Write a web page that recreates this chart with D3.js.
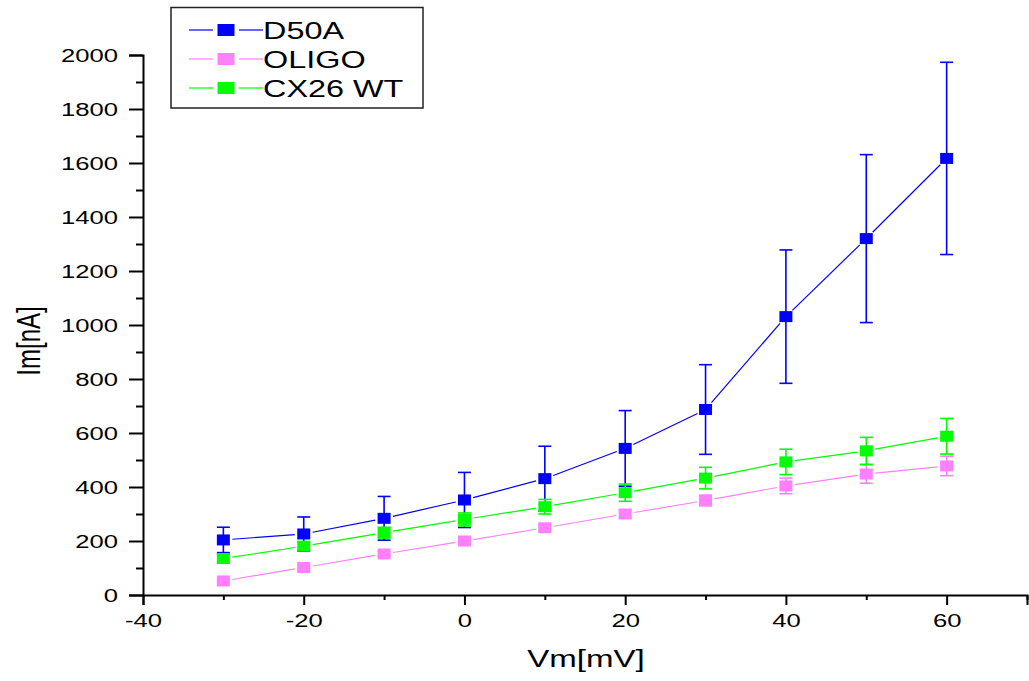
<!DOCTYPE html>
<html>
<head>
<meta charset="utf-8">
<script src="https://cdn.jsdelivr.net/npm/d3@7"></script>
<style>
  body { margin: 0; background: #fff; }
  svg { display: block; font-family: Arial, "Liberation Sans", sans-serif; }
</style>
</head>
<body>
<svg id="chart" width="1029" height="681"></svg>
<script>
// data
const voltages = [-30, -20, -10, 0, 10, 20, 30, 40, 50, 60];
const d50a = [204, 226, 284, 352, 431, 543, 687, 1031, 1320, 1617];
const d50aErr = [47, 63, 81, 102, 120, 140, 166, 247, 311, 356];
const oligo = [52, 102, 152, 200, 249, 300, 350, 404, 448, 478];
const oligoErr = [5, 8, 10, 10, 10, 14, 20, 29, 34, 36];
const cx26 = [135, 181, 231, 280, 327, 379, 433, 493, 534, 588];
const cx26Err = [15, 15, 20, 24, 27, 32, 40, 47, 50, 66];
const seriesNames = ["D50A", "OLIGO", "CX26 WT"];
const xTicks = [-40, -20, 0, 20, 40, 60];
const xMinor = [-30, -10, 10, 30, 50, 70];
const yTicks = [0, 200, 400, 600, 800, 1000, 1200, 1400, 1600, 1800, 2000];
const yMinor = [100, 300, 500, 700, 900, 1100, 1300, 1500, 1700, 1900];

const colors = ["#0000ff", "#ff80ff", "#00ff00"];
const sx = 1.35; // the source image is stretched horizontally

const series = [
  { name: seriesNames[0], vals: d50a, err: d50aErr, color: colors[0] },
  { name: seriesNames[1], vals: oligo, err: oligoErr, color: colors[1] },
  { name: seriesNames[2], vals: cx26, err: cx26Err, color: colors[2] }
];

const svg = d3.select("#chart");

const x = d3.scaleLinear().domain([-40, 70]).range([143, 1027]);
const y = d3.scaleLinear().domain([0, 2000]).range([595, 55]);

// lines with small gaps near the markers
const gap = 9;
series.forEach(s => {
  const pts = voltages.map((v, i) => [x(v), y(s.vals[i])]);
  for (let i = 0; i < pts.length - 1; i++) {
    const [x1, y1] = pts[i], [x2, y2] = pts[i + 1];
    const len = Math.hypot(x2 - x1, y2 - y1);
    const ux = (x2 - x1) / len, uy = (y2 - y1) / len;
    svg.append("line")
      .attr("x1", x1 + ux * gap).attr("y1", y1 + uy * gap)
      .attr("x2", x2 - ux * gap).attr("y2", y2 - uy * gap)
      .attr("stroke", s.color)
      .attr("stroke-width", 1.2);
  }
});

// error bars and markers
series.forEach(s => {
  const g = svg.append("g");
  voltages.forEach((v, i) => {
    const cx = x(v);
    const top = y(s.vals[i] + s.err[i]);
    const bot = y(s.vals[i] - s.err[i]);
    g.append("line").attr("x1", cx).attr("x2", cx).attr("y1", top).attr("y2", bot)
      .attr("stroke", s.color).attr("stroke-width", 1.6);
    [top, bot].forEach(yy => {
      g.append("line").attr("x1", cx - 6.5).attr("x2", cx + 6.5).attr("y1", yy).attr("y2", yy)
        .attr("stroke", s.color).attr("stroke-width", 1.6);
    });
  });
  g.selectAll("rect")
    .data(voltages)
    .join("rect")
    .attr("x", d => x(d) - 6.5)
    .attr("y", (d, i) => y(s.vals[i]) - 5.5)
    .attr("width", 13)
    .attr("height", 11)
    .attr("fill", s.color);
});

// axes
const plain = d => String(d);
const xAxis = svg.append("g").attr("transform", "translate(0,595)")
  .call(d3.axisBottom(x).tickValues(xTicks).tickSize(10).tickPadding(9).tickFormat(plain));
svg.append("g").attr("transform", "translate(0,595)")
  .call(d3.axisBottom(x).tickValues(xMinor).tickSize(5).tickFormat(""))
  .select(".domain").remove();
const yAxis = svg.append("g").attr("transform", "translate(143,0)")
  .call(d3.axisLeft(y).tickValues(yTicks).tickSize(14).tickPadding(11).tickFormat(plain));
svg.append("g").attr("transform", "translate(143,0)")
  .call(d3.axisLeft(y).tickValues(yMinor).tickSize(7).tickFormat(""))
  .select(".domain").remove();

svg.selectAll(".domain").attr("stroke", "#000").attr("stroke-width", 2);
svg.selectAll(".tick line").attr("stroke", "#000").attr("stroke-width", 2);

xAxis.selectAll("text")
  .attr("font-size", 19).attr("fill", "#000")
  .attr("transform", `scale(${sx},1)`);
yAxis.selectAll("text")
  .attr("font-size", 19).attr("fill", "#000")
  .attr("x", -25 / sx)
  .attr("transform", `scale(${sx},1)`);
svg.selectAll(".tick text").attr("font-family", "Arial, 'Liberation Sans', sans-serif");

// axis titles
svg.append("text")
  .attr("transform", `translate(586,667) scale(${sx},1)`)
  .attr("text-anchor", "middle")
  .attr("font-size", 24.5)
  .text("Vm[mV]");
svg.append("text")
  .attr("transform", `translate(29,341) scale(${sx},1) rotate(-90)`)
  .attr("text-anchor", "middle")
  .attr("dy", "0.35em")
  .attr("font-size", 24)
  .text("Im[nA]");

// legend
const legend = svg.append("g");
legend.append("rect")
  .attr("x", 171).attr("y", 7.5).attr("width", 252).attr("height", 100.5)
  .attr("fill", "#fff").attr("stroke", "#222").attr("stroke-width", 1.5);
series.forEach((s, i) => {
  const cy = 30 + i * 29;
  legend.append("line").attr("x1", 189).attr("x2", 213).attr("y1", cy).attr("y2", cy)
    .attr("stroke", s.color).attr("stroke-width", 1.2);
  legend.append("line").attr("x1", 239).attr("x2", 263).attr("y1", cy).attr("y2", cy)
    .attr("stroke", s.color).attr("stroke-width", 1.2);
  legend.append("rect").attr("x", 217.5).attr("y", cy - 6).attr("width", 17).attr("height", 12)
    .attr("fill", s.color);
  legend.append("text")
    .attr("transform", `translate(263,${cy + 8.5}) scale(${sx},1)`)
    .attr("font-size", 24)
    .text(s.name);
});
</script>
</body>
</html>
